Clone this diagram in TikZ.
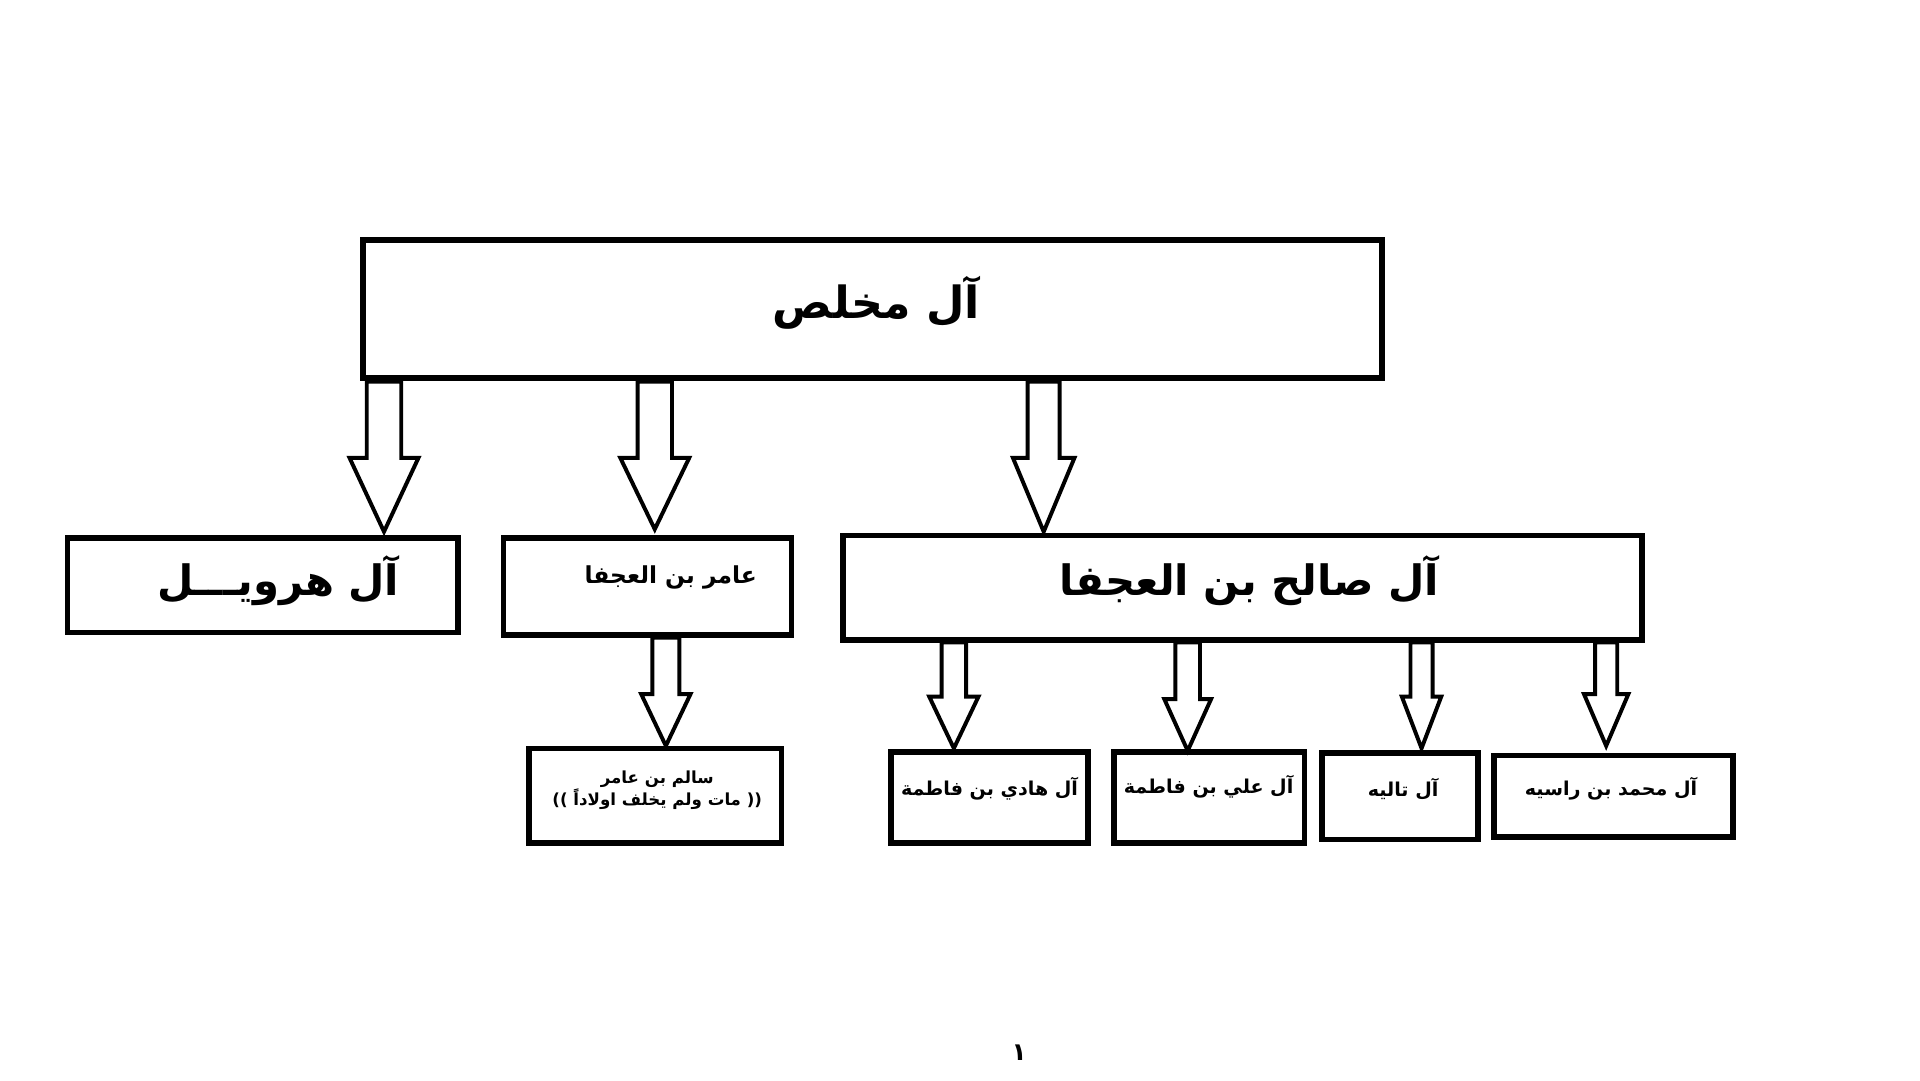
\documentclass[tikz,border=0pt]{standalone}
\usepackage{fontspec}
\TeXXeTstate=1
\newfontfamily\arabicfont[Script=Arabic]{DejaVu Sans}
\newcommand\barrow[6]{% x, ytop, ybot, half shaft, half head, head length
  \draw[arrowbox] (#1-#4,#2) -- (#1+#4,#2) -- (#1+#4,#3+#6) -- (#1+#5,#3+#6) -- (#1,#3) -- (#1-#5,#3+#6) -- (#1-#4,#3+#6) -- cycle;}
\begin{document}
\begin{tikzpicture}[x=1pt,y=-1pt,
  box/.style={draw,line width=4.5pt},
  arrowbox/.style={draw,line width=3.2pt,fill=white,line join=miter},
  lbl/.style={font=\arabicfont\bfseries}]
\useasboundingbox (0,0) rectangle (1560,878);
\draw[box] (295,195) rectangle (1123,307);
\node[lbl,font=\arabicfont\bfseries\fontsize{36}{40}\selectfont] (top) at (712,246) {\beginR آل مخلص\endR};
\draw[box] (55,437) rectangle (372,514);
\node[lbl,font=\arabicfont\bfseries\fontsize{34}{38}\selectfont] (l1) at (226,472) {\beginR آل هرويـــل\endR};
\draw[box] (409,437) rectangle (643,516);
\node[lbl,font=\arabicfont\bfseries\fontsize{19}{22}\selectfont] (l2) at (545,469) {\beginR عامر بن العجفا\endR};
\draw[box] (685,435) rectangle (1334,520);
\node[lbl,font=\arabicfont\bfseries\fontsize{34}{38}\selectfont] (l3) at (1015,472) {\beginR آل صالح بن العجفا\endR};
\draw[box] (430,608) rectangle (635,685);
\node[lbl,align=center,font=\arabicfont\bfseries\fontsize{13.5}{17}\selectfont] (s) at (534,642) {\beginR سالم بن عامر\endR\\\beginR (( مات ولم يخلف اولاداً ))\endR};
\draw[box] (724,611) rectangle (884,685);
\node[lbl,font=\arabicfont\bfseries\fontsize{15.5}{18}\selectfont] (c1) at (804,641) {\beginR آل هادي بن فاطمة\endR};
\draw[box] (905,611) rectangle (1060,685);
\node[lbl,font=\arabicfont\bfseries\fontsize{15.5}{18}\selectfont] (c2) at (982,639) {\beginR آل علي بن فاطمة\endR};
\draw[box] (1074,612) rectangle (1201,682);
\node[lbl,font=\arabicfont\bfseries\fontsize{15.5}{18}\selectfont] (c3) at (1140,641) {\beginR آل تاليه\endR};
\draw[box] (1214,614) rectangle (1408,680);
\node[lbl,font=\arabicfont\bfseries\fontsize{15.5}{18}\selectfont] (c4) at (1309,641) {\beginR آل محمد بن راسيه\endR};
\barrow{312}{310}{432}{14}{28}{-60}
\barrow{532}{310}{430}{14}{28}{-58}
\barrow{848}{310}{432}{13}{25}{-60}
\barrow{541}{518}{606}{11}{20}{-42}
\barrow{775}{522}{608}{10}{20}{-42}
\barrow{965}{522}{610}{10}{19}{-42}
\barrow{1155}{522}{608}{9}{16}{-42}
\barrow{1305}{522}{606}{9}{18}{-42}
\node[font=\arabicfont\bfseries\fontsize{20}{22}\selectfont] (pg) at (828,855) {١};
\end{tikzpicture}
\end{document}
